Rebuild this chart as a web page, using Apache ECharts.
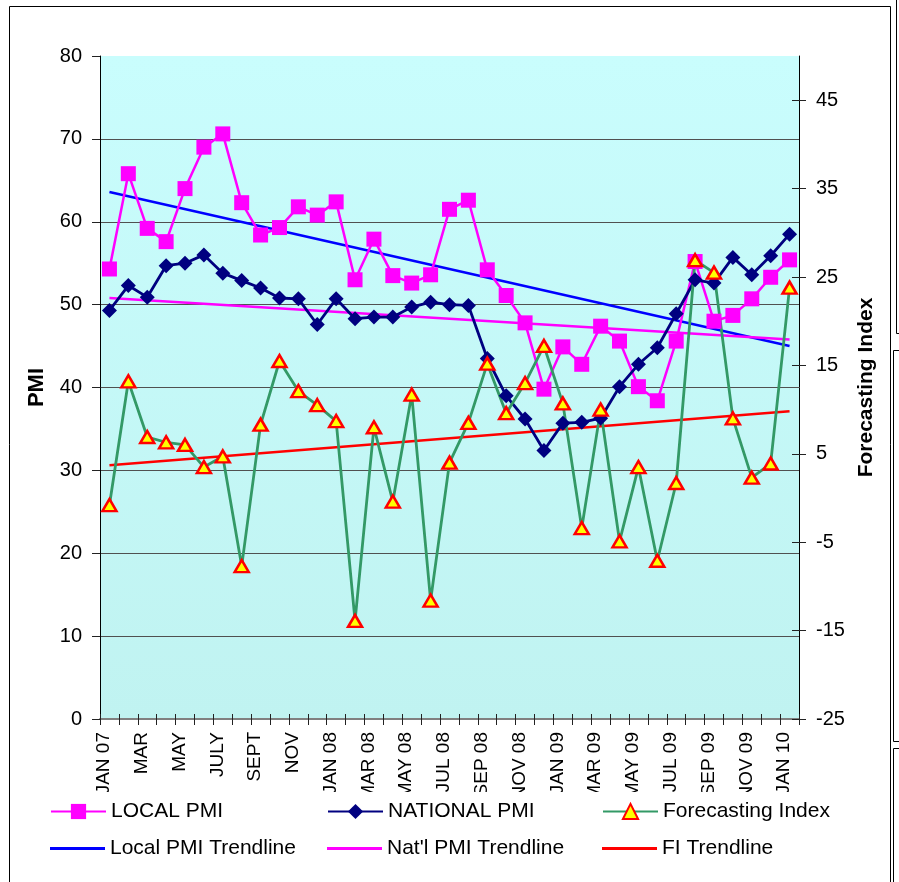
<!DOCTYPE html>
<html>
<head>
<meta charset="utf-8">
<script src="https://cdn.jsdelivr.net/npm/echarts@6/dist/echarts.min.js"></script>
<style>
html,body{margin:0;padding:0;background:#fff;}
#c{width:899px;height:882px;}
</style>
</head>
<body>
<div id="c"></div>
<script>
const categories = ['JAN 07','FEB','MAR','APR','MAY','JUNE','JULY','AUG','SEPT','OCT','NOV','DEC',
  'JAN 08','FEB 08','MAR 08','APR 08','MAY 08','JUN 08','JUL 08','AUG 08','SEP 08','OCT 08','NOV 08','DEC 08',
  'JAN 09','FEB 09','MAR 09','APR 09','MAY 09','JUN 09','JUL 09','AUG 09','SEP 09','OCT 09','NOV 09','DEC 09',
  'JAN 10'];
const localPMI = [54.3,65.8,59.2,57.6,64.0,69.0,70.6,62.3,58.4,59.3,61.8,60.8,
  62.4,53.0,57.9,53.5,52.6,53.6,61.5,62.6,54.2,51.1,47.8,39.8,
  44.9,42.8,47.4,45.6,40.1,38.4,45.6,55.2,48.0,48.7,50.7,53.3,55.4];
const nationalPMI = [49.3,52.3,50.9,54.7,55.0,56.0,53.8,52.9,52.0,50.8,50.7,47.6,
  50.7,48.3,48.5,48.5,49.7,50.3,50.0,49.9,43.5,39.0,36.2,32.4,
  35.7,35.8,36.3,40.1,42.8,44.8,48.9,53.0,52.6,55.7,53.6,55.9,58.5];
const forecastIdx = [-0.8,13.2,6.9,6.3,6.0,3.5,4.7,-7.7,8.3,15.5,12.1,10.5,
  8.7,-13.9,8.0,-0.4,11.7,-11.6,4.0,8.5,15.2,9.6,13.0,17.2,
  10.7,-3.4,10.0,-4.9,3.5,-7.1,1.7,26.9,25.5,9.0,2.3,3.9,23.8];
// trendline values at first and last month
const localTrend = [63.6, 45.0];
const natTrend = [50.8, 45.8];
const fiTrend = [3.7, 9.8];
const leftTicks = [0,10,20,30,40,50,60,70,80];
const rightTicks = [-25,-15,-5,5,15,25,35,45];

const FONT = "'Liberation Sans', Arial, sans-serif";
const first = categories[0], last = categories[categories.length-1];

const chart = echarts.init(document.getElementById('c'), null, {renderer:'canvas'});

const legendBase = {
  itemWidth:55, itemHeight:19, itemGap:0, padding:0, selectedMode:false,
  textStyle:{fontSize:21, color:'#000', fontFamily:FONT}
};
function lg(name, left, top, extra){ return Object.assign({}, legendBase, {data:[name], left:left, top:top}, extra||{}); }
const trendLegend = {icon:'rect', itemHeight:3};

const option = {
  animation:false,
  backgroundColor:'#fff',
  textStyle:{fontFamily:FONT},
  grid:{left:100, right:100, top:56, bottom:163, show:true, borderWidth:0,
    backgroundColor:new echarts.graphic.LinearGradient(0,0,0,1,[{offset:0,color:'#C9FDFD'},{offset:1,color:'#C0F3F1'}])},
  legend:[
    lg('LOCAL PMI',50,801), lg('NATIONAL PMI',327,801), lg('Forecasting Index',602,801),
    lg('Local PMI Trendline',50,838,trendLegend), lg("Nat'l PMI Trendline",327,838,trendLegend), lg('FI Trendline',602,838,trendLegend)
  ],
  xAxis:[{
    type:'category', data:categories, boundaryGap:true, position:'bottom',
    axisLine:{show:true, onZero:false, lineStyle:{color:'#808080', width:2}},
    axisTick:{show:true, interval:0, length:6, lineStyle:{color:'#222', width:1}},
    axisLabel:{interval:1, rotate:90, margin:13, fontSize:19, color:'#000', fontFamily:FONT,
      verticalAlign:'bottom', lineHeight:11},
    splitLine:{show:false}
  },{
    type:'category', data:categories, boundaryGap:true, position:'bottom',
    axisLine:{show:false, onZero:false},
    axisTick:{show:true, inside:true, interval:0, length:5, lineStyle:{color:'#222', width:1}},
    axisLabel:{show:false}, splitLine:{show:false}
  }],
  yAxis:[{
    type:'value', min:0, max:80, interval:10, position:'left',
    name:'PMI', nameLocation:'middle', nameGap:52, nameRotate:90,
    nameTextStyle:{fontSize:22, fontWeight:'bold', color:'#000', fontFamily:FONT},
    axisLine:{show:true, lineStyle:{color:'#000', width:1}},
    axisTick:{show:true, length:8, lineStyle:{color:'#222'}},
    axisLabel:{margin:18, fontSize:20, color:'#000', fontFamily:FONT},
    splitLine:{show:true, lineStyle:{color:['transparent','#505050','#505050','#505050','#505050','#505050','#505050','#505050','transparent'], width:1.2}}
  },{
    type:'value', min:-25, max:50, position:'right',
    name:'Forecasting Index', nameLocation:'middle', nameGap:41, nameRotate:90,
    nameTextStyle:{fontSize:21, fontWeight:'bold', color:'#000', fontFamily:FONT},
    axisLine:{show:true, onZero:false, lineStyle:{color:'#000', width:1}},
    axisTick:{show:true, length:7, customValues:rightTicks, lineStyle:{color:'#222'}},
    axisLabel:{margin:17, fontSize:20, color:'#000', fontFamily:FONT, customValues:rightTicks},
    splitLine:{show:false}
  },{
    type:'value', min:-25, max:50, position:'right',
    axisLine:{show:false, onZero:false},
    axisTick:{show:true, inside:true, length:7, customValues:rightTicks, lineStyle:{color:'#222'}},
    axisLabel:{show:false, customValues:rightTicks},
    splitLine:{show:false}
  }],
  series:[
    {name:'Local PMI Trendline', type:'line', xAxisIndex:0, yAxisIndex:0, symbol:'none',
      data:[[first,localTrend[0]],[last,localTrend[1]]], lineStyle:{color:'#0000FF', width:2.5}, itemStyle:{color:'#0000FF'}},
    {name:"Nat'l PMI Trendline", type:'line', xAxisIndex:0, yAxisIndex:0, symbol:'none',
      data:[[first,natTrend[0]],[last,natTrend[1]]], lineStyle:{color:'#FF00FF', width:2.5}, itemStyle:{color:'#FF00FF'}},
    {name:'FI Trendline', type:'line', xAxisIndex:0, yAxisIndex:1, symbol:'none',
      data:[[first,fiTrend[0]],[last,fiTrend[1]]], lineStyle:{color:'#FF0000', width:2.5}, itemStyle:{color:'#FF0000'}},
    {name:'LOCAL PMI', type:'line', xAxisIndex:0, yAxisIndex:0, data:localPMI,
      symbol:'rect', symbolSize:15, showAllSymbol:true,
      lineStyle:{color:'#FF00FF', width:2.5}, itemStyle:{color:'#FF00FF', borderWidth:0}},
    {name:'NATIONAL PMI', type:'line', xAxisIndex:0, yAxisIndex:0, data:nationalPMI,
      symbol:'diamond', symbolSize:15, showAllSymbol:true,
      lineStyle:{color:'#000080', width:2.8}, itemStyle:{color:'#000080', borderWidth:0}},
    {name:'Forecasting Index', type:'line', xAxisIndex:0, yAxisIndex:1, data:forecastIdx,
      symbol:'triangle', symbolSize:[14,12], showAllSymbol:true,
      lineStyle:{color:'#339966', width:2.8}, itemStyle:{color:'#FFFF00', borderColor:'#FF0000', borderWidth:2.5}}
  ],
  graphic:[
    {type:'rect', z:100, silent:true, shape:{x:90, y:792, width:720, height:8}, style:{fill:'#fff'}},
    {type:'rect', z:100, silent:true, shape:{x:9.5, y:6.5, width:881, height:900}, style:{fill:'none', stroke:'#000', lineWidth:1}},
    {type:'polyline', z:100, silent:true, shape:{points:[[896.5,0],[896.5,333.5],[899,333.5]]}, style:{stroke:'#000', lineWidth:1, fill:null}},
    {type:'polyline', z:100, silent:true, shape:{points:[[899,350.5],[893.5,350.5],[893.5,741.5],[899,741.5]]}, style:{stroke:'#000', lineWidth:1, fill:null}},
    {type:'polyline', z:100, silent:true, shape:{points:[[899,748.5],[893.5,748.5],[893.5,882]]}, style:{stroke:'#000', lineWidth:1, fill:null}}
  ]
};
chart.setOption(option);
</script>
</body>
</html>
